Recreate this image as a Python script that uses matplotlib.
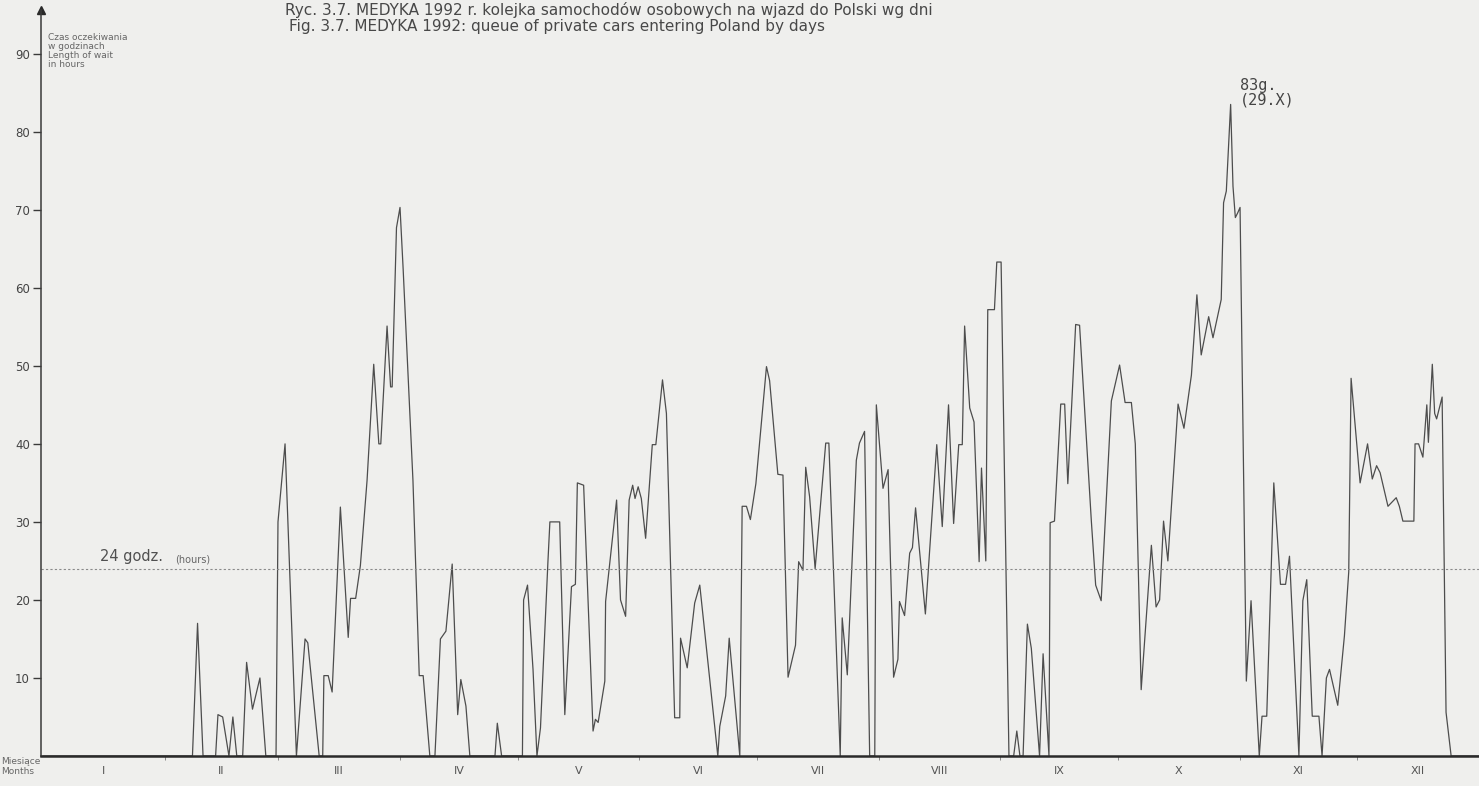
import matplotlib
matplotlib.use("Agg")
import matplotlib.pyplot as plt

# dzien roku (1992, rok przestepny) i czas oczekiwania w godzinach
days = [0, 38.1, 39.4, 40.8, 44.0, 44.6, 45.8, 47.4, 48.4, 49.4, 50.9, 51.9, 53.4, 55.3, 56.8,
        59.4, 59.9, 61.7, 64.6, 66.8, 67.5, 70.4, 71.3, 71.6, 72.7, 73.7, 75.8, 77.8, 78.4, 79.7,
        80.9, 82.6, 84.3, 85.6, 86.1, 87.7, 88.6, 89.0, 90.1, 91.0, 91.8, 94.3, 95.9, 96.9, 98.6,
        99.9, 101.3, 102.7, 104.3, 105.7, 106.5, 107.8, 108.8, 115.2, 115.8, 116.9, 122.2, 122.5,
        123.5, 124.9, 125.9, 126.8, 128.7, 129.2, 131.7, 133.0, 134.7, 135.7, 136.2, 137.8, 140.2,
        140.8, 141.5, 143.2, 143.4, 146.2, 147.2, 148.5, 149.4, 150.3, 150.9, 151.7, 152.5, 153.6,
        155.3, 156.2, 157.9, 158.9, 161.0, 162.3, 162.5, 164.2, 166.1, 167.4, 172.0, 172.5, 174.0,
        174.9, 177.6, 178.2, 179.3, 180.3, 181.7, 184.4, 185.2, 187.3, 188.6, 189.9, 191.8, 192.6,
        193.7, 194.4, 195.4, 196.8, 199.5, 200.3, 203.2, 203.7, 205.0, 207.3, 208.1, 209.4, 210.7,
        212.0, 212.4, 214.1, 215.4, 215.5, 216.8, 217.9, 218.3, 219.6, 220.9, 221.6, 222.4, 224.9,
        227.8, 229.2, 230.8, 232.1, 233.4, 234.3, 234.9, 236.2, 237.3, 238.6, 239.2, 240.3, 240.8,
        242.5, 243.1, 244.2, 246.2, 247.4, 248.2, 249.0, 249.8, 250.9, 251.9, 254.0, 254.9, 256.4,
        256.7, 257.8, 259.4, 260.4, 261.2, 263.2, 264.2, 267.2, 268.3, 269.7, 272.3, 274.4, 275.8,
        277.4, 278.4, 279.9, 282.5, 283.7, 284.6, 285.6, 286.7, 289.3, 290.8, 292.7, 294.1, 295.2,
        297.1, 298.2, 300.3, 300.9, 301.6, 302.7, 303.3, 303.9, 304.5, 305.1, 306.7, 307.9, 310.0,
        310.7, 311.9, 313.7, 315.4, 316.7, 317.7, 320.1, 321.1, 322.1, 323.5, 325.2, 326.0, 327.1,
        327.9, 330.0, 331.7, 332.8, 333.4, 335.7, 337.6, 338.8, 339.9, 340.8, 342.8, 344.9, 345.7,
        346.6, 349.4, 349.7, 350.6, 351.7, 352.7, 353.1, 354.1, 354.7, 355.2, 356.6, 357.6, 358.9,
        366]
hours = [0, 0, 17, 0, 0, 5.3, 5.0, 0, 5.0, 0, 0, 12, 6, 10, 0,
         0, 30, 40, 0, 15, 14.5, 0, 0, 10.3, 10.3, 8.2, 31.9, 15.2, 20.2, 20.2,
         24.4, 35.3, 50.2, 40, 40, 55.1, 47.3, 47.3, 67.7, 70.3, 62.4, 35.3, 10.3, 10.3, 0,
         0, 15.0, 16.0, 24.6, 5.3, 9.8, 6.4, 0, 0, 4.2, 0, 0, 20.0,
         21.9, 11.1, 0, 3.6, 24.9, 30.0, 30.0, 5.3, 21.7, 22.0, 35.0, 34.7, 3.2,
         4.7, 4.3, 9.6, 19.8, 32.8, 20.0, 17.9, 32.8, 34.7, 33.0, 34.5, 33.0, 27.9,
         39.9, 39.9, 48.2, 43.9, 4.9, 4.9, 15.1, 11.3, 19.6, 21.9, 0, 3.8, 7.7,
         15.1, 0, 32.0, 32.0, 30.3, 34.9, 49.9, 48.1, 36.1, 36.0, 10.1, 14.2, 24.9,
         23.8, 37.0, 33.2, 24.0, 40.1, 40.1, 0, 17.7, 10.4, 37.9, 40.1, 41.6, 0,
         0, 45.0, 34.3, 36.7, 34.1, 10.1, 12.4, 19.8, 18.0, 26.0, 26.7, 31.8, 18.2,
         39.9, 29.4, 45.0, 29.8, 39.9, 39.9, 55.1, 44.6, 42.8, 24.9, 36.9, 25.0, 57.2,
         57.2, 63.3, 63.3, 0, 0, 3.2, 0, 0, 16.9, 13.8, 0, 13.1, 0,
         29.9, 30.1, 45.1, 45.1, 34.9, 55.3, 55.2, 30.1, 21.9, 19.9, 45.5, 50.1, 45.3,
         45.3, 40.0, 8.5, 27.0, 19.1, 20.0, 30.1, 25.0, 45.1, 42.0, 48.8, 59.1, 51.4,
         56.3, 53.6, 58.5, 70.9, 72.4, 83.5, 73.0, 69.0, 69.6, 70.3, 9.6, 19.9, 0,
         5.1, 5.1, 35.0, 22.0, 22.0, 25.6, 0, 19.9, 22.6, 5.1, 5.1, 0, 10.0,
         11.1, 6.5, 15.4, 23.6, 48.4, 35.0, 40.0, 35.5, 37.2, 36.3, 32.0, 33.1, 32.0,
         30.1, 30.1, 40.0, 40.0, 38.3, 45.0, 40.2, 50.2, 43.9, 43.2, 46.0, 5.6, 0,
         0]

month_starts = [0, 31, 60, 91, 121, 152, 182, 213, 244, 274, 305, 335, 366]
month_labels = ["I", "II", "III", "IV", "V", "VI", "VII", "VIII", "IX", "X", "XI", "XII"]
y_ticks = [10, 20, 30, 40, 50, 60, 70, 80, 90]

W, H = 1479, 786
bg = "#efefed"
ink = "#3a3a3a"
plt.rcParams["font.family"] = ["DejaVu Sans"]

fig = plt.figure(figsize=(W / 100, H / 100), dpi=100, facecolor=bg)


def px(x, y):
    # pozycja w pikselach -> wspolrzedne figury
    return x / W, 1 - y / H


ax = fig.add_axes([41 / W, 30 / H, (W - 41) / W, 746 / H], facecolor=bg)
ax.plot(days, hours, color="#4d4d4d", lw=0.9)
ax.axhline(24, color="#8a8a8a", lw=0.8, ls=(0, (2, 2)))

ax.set_xlim(-0.5, 366)
ax.set_ylim(0, 95.6)
for s in ["top", "right"]:
    ax.spines[s].set_visible(False)
ax.spines["left"].set_color(ink)
ax.spines["left"].set_linewidth(1.1)
ax.spines["bottom"].set_color("#2a2a2a")
ax.spines["bottom"].set_linewidth(1.8)
ax.plot(0, 1, marker="^", ms=6, color="#2a2a2a", transform=ax.transAxes, clip_on=False)

ax.set_yticks(y_ticks)
ax.set_yticklabels([str(v) for v in y_ticks], fontsize=8.5, color="#444444")
ax.tick_params(axis="y", direction="out", length=6, width=1, color=ink, pad=2)

centers = [(a + b) / 2 for a, b in zip(month_starts[:-1], month_starts[1:])]
ax.set_xticks(centers)
ax.set_xticklabels(month_labels, fontsize=8, color="#555555")
ax.tick_params(axis="x", length=0, pad=7)
ax.set_xticks(month_starts[1:-1], minor=True)
ax.tick_params(axis="x", which="minor", direction="out", length=3, color="#777777")

ax.text(14.5, 24.6, "24 godz.", fontsize=10.5, color="#505050", va="bottom")
ax.text(33.7, 24.6, "(hours)", fontsize=7, color="#666666", va="bottom")

ax.text(305, 86.9, "83g.\n(29.X)", fontsize=11, family="DejaVu Sans Mono", color="#444444",
        va="top", linespacing=0.95)

fig.text(*px(285, 10), "Ryc. 3.7. MEDYKA 1992 r. kolejka samochodów osobowych na wjazd do Polski wg dni",
         fontsize=11, color="#484848", va="center")
fig.text(*px(289, 26), "Fig. 3.7. MEDYKA 1992: queue of private cars entering Poland by days",
         fontsize=11, color="#484848", va="center")

fig.text(*px(48, 33), "Czas oczekiwania\nw godzinach\nLength of wait\nin hours",
         fontsize=6.5, color="#666666", va="top", linespacing=1.0)
fig.text(*px(1, 757), "Miesiące\nMonths", fontsize=6.5, color="#666666", va="top", linespacing=1.2)

fig.savefig("out.png", dpi=100, facecolor=bg)
